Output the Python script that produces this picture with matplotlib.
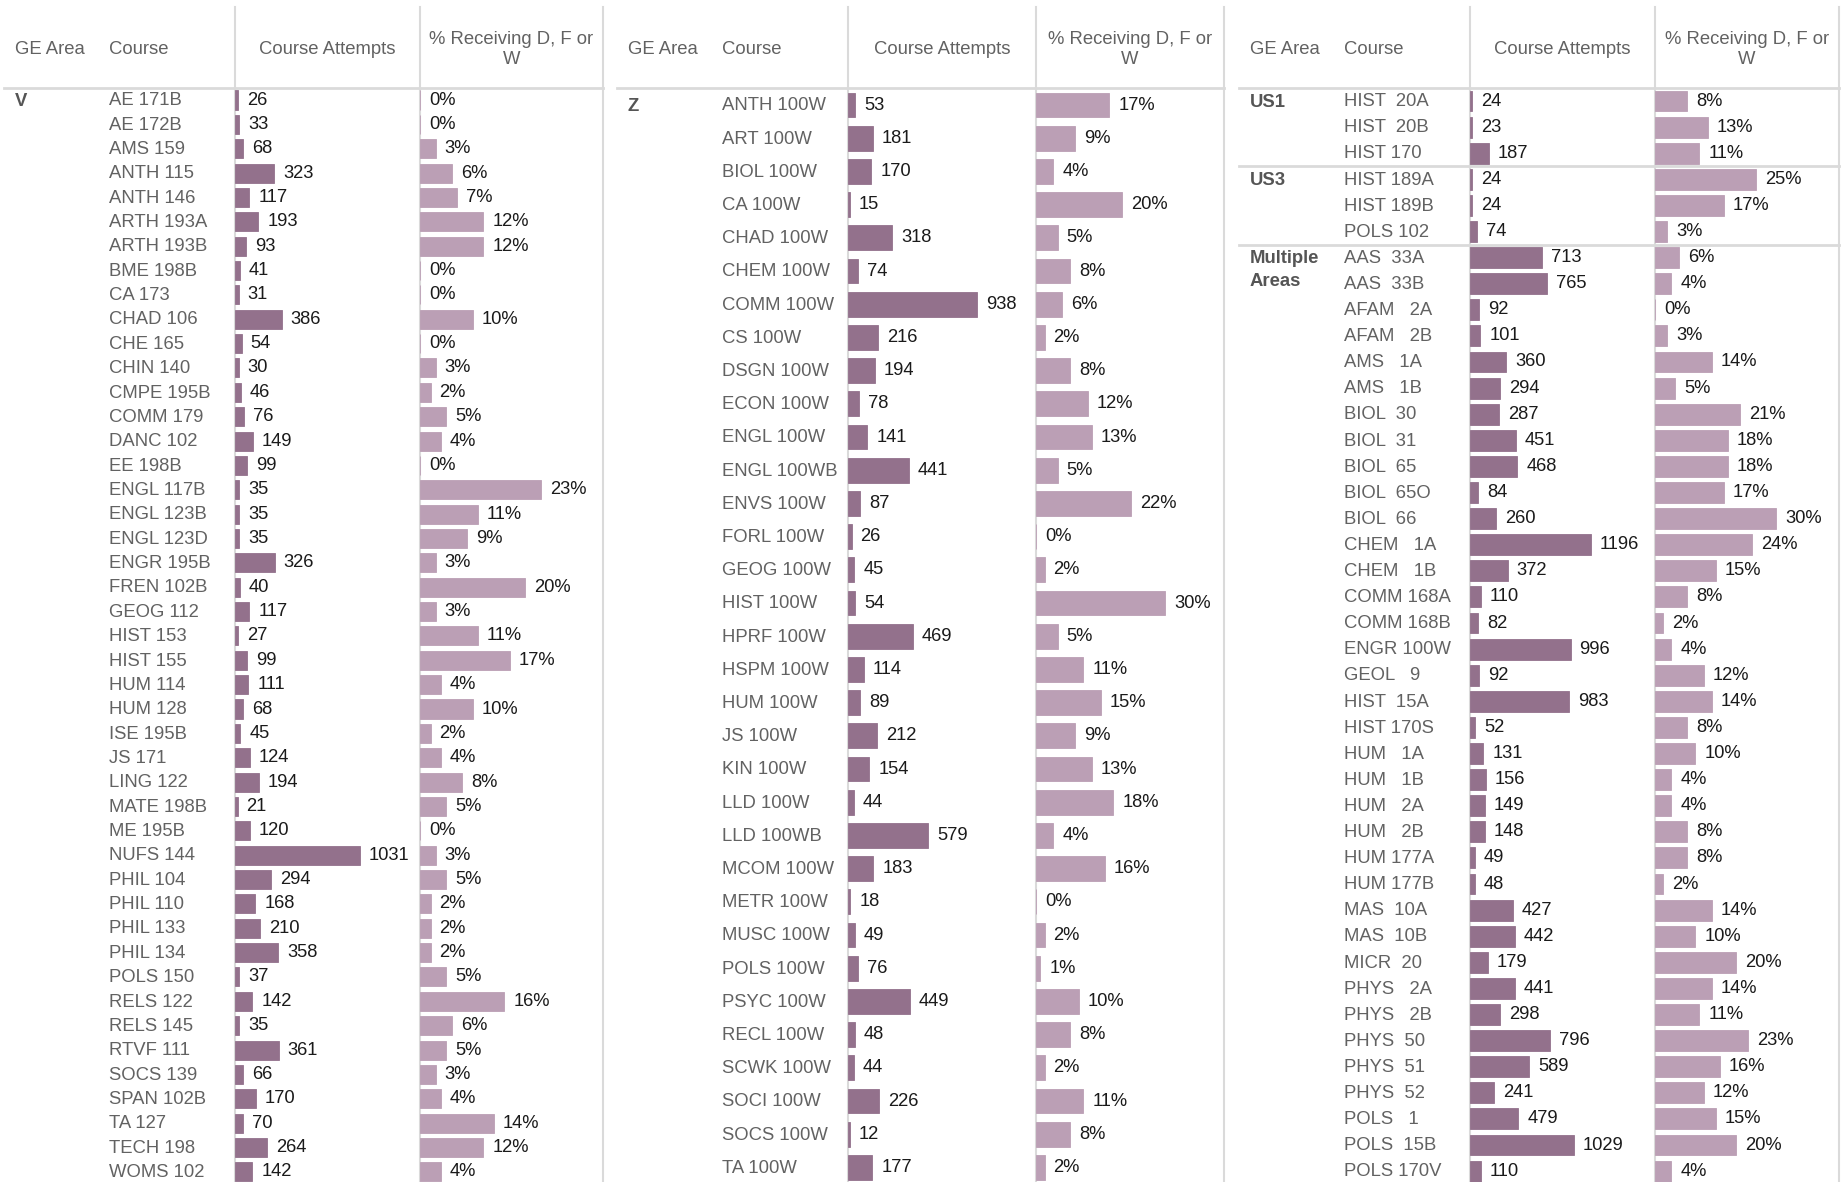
import matplotlib
matplotlib.use("Agg")
import matplotlib.pyplot as plt
from matplotlib.transforms import blended_transform_factory

plt.rcParams['font.family'] = ['Liberation Sans', 'DejaVu Sans']

# ---- data: GE area V ----
v_courses = ["AE 171B", "AE 172B", "AMS 159", "ANTH 115", "ANTH 146", "ARTH 193A", "ARTH 193B",
             "BME 198B", "CA 173", "CHAD 106", "CHE 165", "CHIN 140", "CMPE 195B", "COMM 179",
             "DANC 102", "EE 198B", "ENGL 117B", "ENGL 123B", "ENGL 123D", "ENGR 195B", "FREN 102B",
             "GEOG 112", "HIST 153", "HIST 155", "HUM 114", "HUM 128", "ISE 195B", "JS 171",
             "LING 122", "MATE 198B", "ME 195B", "NUFS 144", "PHIL 104", "PHIL 110", "PHIL 133",
             "PHIL 134", "POLS 150", "RELS 122", "RELS 145", "RTVF 111", "SOCS 139", "SPAN 102B",
             "TA 127", "TECH 198", "WOMS 102"]
v_attempts = [26, 33, 68, 323, 117, 193, 93, 41, 31, 386, 54, 30, 46, 76, 149, 99, 35, 35, 35, 326,
              40, 117, 27, 99, 111, 68, 45, 124, 194, 21, 120, 1031, 294, 168, 210, 358, 37, 142,
              35, 361, 66, 170, 70, 264, 142]
v_pct = [0, 0, 3, 6, 7, 12, 12, 0, 0, 10, 0, 3, 2, 5, 4, 0, 23, 11, 9, 3, 20, 3, 11, 17, 4, 10,
         2, 4, 8, 5, 0, 3, 5, 2, 2, 2, 5, 16, 6, 5, 3, 4, 14, 12, 4]

# ---- data: GE area Z ----
z_courses = ["ANTH 100W", "ART 100W", "BIOL 100W", "CA 100W", "CHAD 100W", "CHEM 100W",
             "COMM 100W", "CS 100W", "DSGN 100W", "ECON 100W", "ENGL 100W", "ENGL 100WB",
             "ENVS 100W", "FORL 100W", "GEOG 100W", "HIST 100W", "HPRF 100W", "HSPM 100W",
             "HUM 100W", "JS 100W", "KIN 100W", "LLD 100W", "LLD 100WB", "MCOM 100W", "METR 100W",
             "MUSC 100W", "POLS 100W", "PSYC 100W", "RECL 100W", "SCWK 100W", "SOCI 100W",
             "SOCS 100W", "TA 100W"]
z_attempts = [53, 181, 170, 15, 318, 74, 938, 216, 194, 78, 141, 441, 87, 26, 45, 54, 469, 114,
              89, 212, 154, 44, 579, 183, 18, 49, 76, 449, 48, 44, 226, 12, 177]
z_pct = [17, 9, 4, 20, 5, 8, 6, 2, 8, 12, 13, 5, 22, 0, 2, 30, 5, 11, 15, 9, 13, 18, 4, 16, 0,
         2, 1, 10, 8, 2, 11, 8, 2]

# ---- data: US1, US3, Multiple Areas ----
us1_courses = ["HIST  20A", "HIST  20B", "HIST 170"]
us1_attempts = [24, 23, 187]
us1_pct = [8, 13, 11]

us3_courses = ["HIST 189A", "HIST 189B", "POLS 102"]
us3_attempts = [24, 24, 74]
us3_pct = [25, 17, 3]

multi_courses = ["AAS  33A", "AAS  33B", "AFAM   2A", "AFAM   2B", "AMS   1A", "AMS   1B",
                 "BIOL  30", "BIOL  31", "BIOL  65", "BIOL  65O", "BIOL  66", "CHEM   1A",
                 "CHEM   1B", "COMM 168A", "COMM 168B", "ENGR 100W", "GEOL   9", "HIST  15A",
                 "HIST 170S", "HUM   1A", "HUM   1B", "HUM   2A", "HUM   2B", "HUM 177A",
                 "HUM 177B", "MAS  10A", "MAS  10B", "MICR  20", "PHYS   2A", "PHYS   2B",
                 "PHYS  50", "PHYS  51", "PHYS  52", "POLS   1", "POLS  15B", "POLS 170V"]
multi_attempts = [713, 765, 92, 101, 360, 294, 287, 451, 468, 84, 260, 1196, 372, 110, 82, 996,
                  92, 983, 52, 131, 156, 149, 148, 49, 48, 427, 442, 179, 441, 298, 796, 589,
                  241, 479, 1029, 110]
multi_pct = [6, 4, 0, 3, 14, 5, 21, 18, 18, 17, 30, 24, 15, 8, 2, 4, 12, 14, 8, 10, 4, 4, 8, 8,
             2, 14, 10, 20, 14, 11, 23, 16, 12, 15, 20, 4]

# ---- style ----
W, H = 1845, 1182
DARK = '#93718c'
LIGHT = '#bb9fb5'
GRID = '#dadada'
GREY = '#626262'
AREA = '#555555'
VAL = '#1a1a1a'
FS = 13.3
FS_VAL = 13.2
HEAD_Y = 88

fig = plt.figure(figsize=(W / 100, H / 100), dpi=100)
bg = fig.add_axes([0, 0, 1, 1])
bg.set_xlim(0, W)
bg.set_ylim(H, 0)
bg.set_autoscale_on(False)
bg.axis('off')


def px_axes(x0, x1, y0, y1):
    ax = fig.add_axes([x0 / W, 1 - y1 / H, (x1 - x0) / W, (y1 - y0) / H])
    ax.axis('off')
    return ax


def draw_panel(left, sep1, sep2, right, first_y, pitch, bar_h, att_max, pct_max, groups):
    courses, attempts, pct, starts = [], [], [], []
    for area, c, a, p in groups:
        starts.append((area, len(courses)))
        courses += c
        attempts += a
        pct += p
    rows = list(range(len(courses)))

    # grid lines + headers
    bg.plot([left, right], [HEAD_Y, HEAD_Y], color=GRID, lw=2)
    for x in (sep1, sep2, right):
        bg.plot([x, x], [7, H], color=GRID, lw=1.5)
    bg.text(left + 11, 49.5, "GE Area", fontsize=FS, color=GREY, va='center')
    bg.text(left + 105, 49.5, "Course", fontsize=FS, color=GREY, va='center')
    bg.text((sep1 + sep2) / 2, 49.5, "Course Attempts", fontsize=FS, color=GREY,
            va='center', ha='center')
    bg.text((sep2 + right) / 2, 49.5, "% Receiving D, F or\nW", fontsize=FS, color=GREY,
            va='center', ha='center', linespacing=1.27)

    top = (HEAD_Y - first_y) / pitch
    bottom = (H - first_y) / pitch

    ax1 = px_axes(sep1, sep2, HEAD_Y, H)
    ax1.set_xlim(0, att_max)
    ax1.set_ylim(bottom, top)
    ax1.barh(rows, attempts, height=bar_h, color=DARK, edgecolor=DARK, linewidth=0.6)
    for i, v in zip(rows, attempts):
        ax1.annotate(str(v), (v, i), xytext=(9, 0), textcoords='offset pixels',
                     va='center', ha='left', fontsize=FS_VAL, color=VAL)

    ax2 = px_axes(sep2, right, HEAD_Y, H)
    ax2.set_xlim(0, pct_max)
    ax2.set_ylim(bottom, top)
    ax2.barh(rows, pct, height=bar_h, color=LIGHT, edgecolor=LIGHT, linewidth=0.6)
    for i, v in zip(rows, pct):
        ax2.annotate(f"{v}%", (v, i), xytext=(9, 0), textcoords='offset pixels',
                     va='center', ha='left', fontsize=FS_VAL, color=VAL)

    trans = blended_transform_factory(bg.transData, ax1.transData)
    for i, name in zip(rows, courses):
        bg.text(left + 105, i + 0.03, name, transform=trans, fontsize=FS, color=GREY,
                va='center')
    for k, (area, s) in enumerate(starts):
        for j, line in enumerate(area.split("\n")):
            bg.text(left + 11, s + j * 22.4 / pitch + 0.05, line, transform=trans,
                    fontsize=FS, color=AREA, fontweight='bold', va='center')
        if k > 0:
            bg.plot([left, right], [s - 0.5, s - 0.5], transform=trans, color=GRID, lw=2)


draw_panel(4, 235, 420, 603, 100, 24.36, 0.78, 1526, 34.7,
           [("V", v_courses, v_attempts, v_pct)])
draw_panel(617, 848, 1036, 1224, 105, 33.2, 0.75, 1362, 43.7,
           [("Z", z_courses, z_attempts, z_pct)])
draw_panel(1239, 1470, 1655, 1839, 101, 26.1, 0.8, 1832, 45.5,
           [("US1", us1_courses, us1_attempts, us1_pct),
            ("US3", us3_courses, us3_attempts, us3_pct),
            ("Multiple\nAreas", multi_courses, multi_attempts, multi_pct)])

fig.savefig("out.png", dpi=100)
